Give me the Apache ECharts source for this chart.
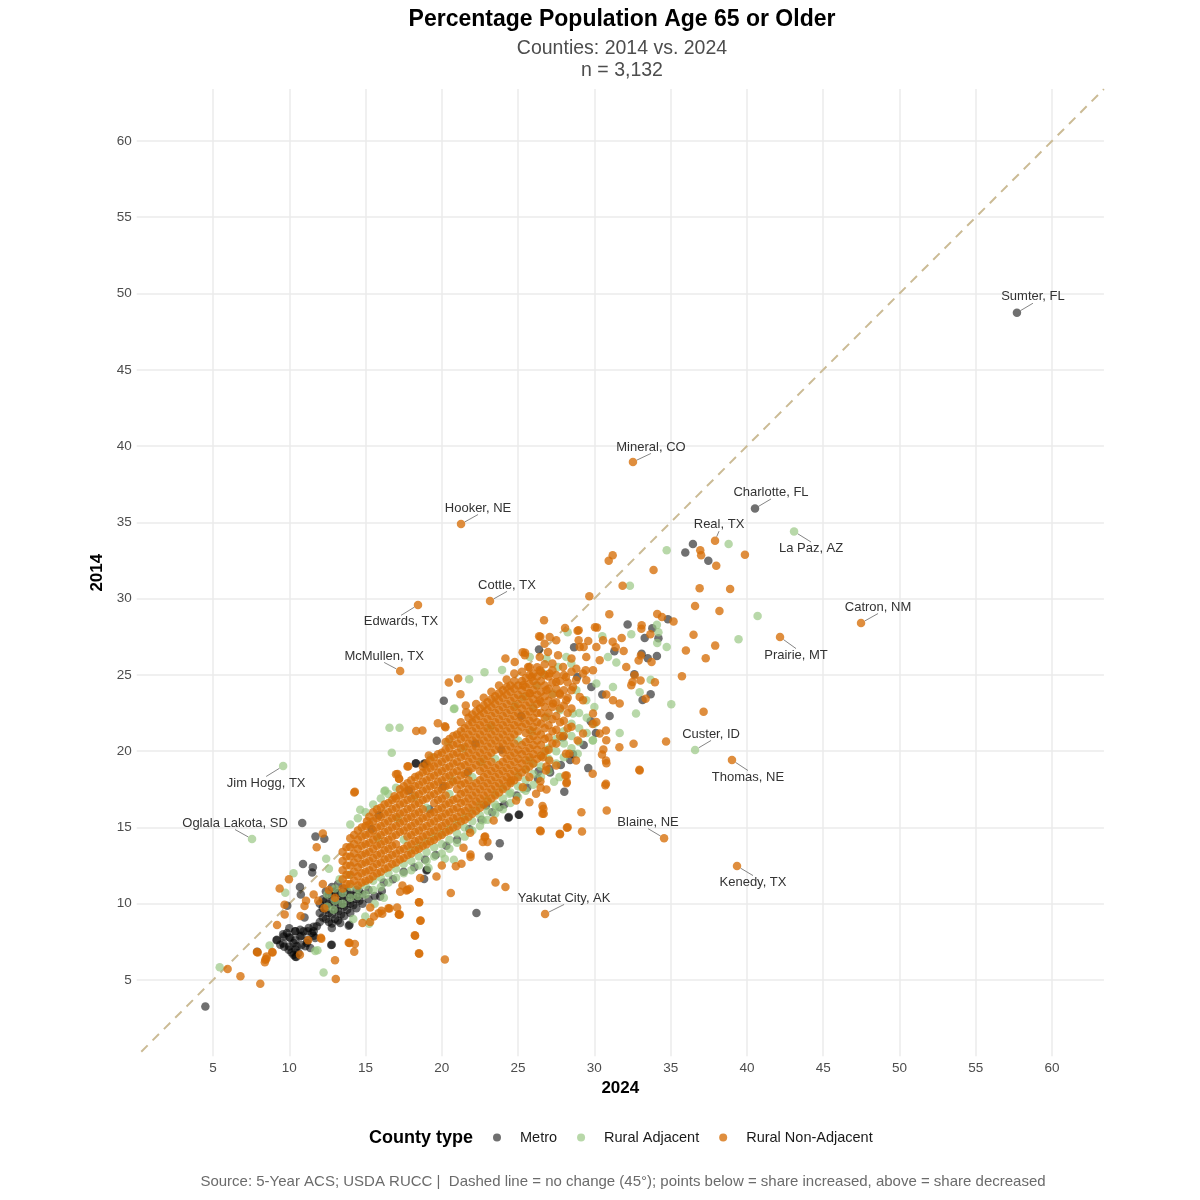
<!DOCTYPE html>
<html>
<head>
<meta charset="utf-8">
<title>Percentage Population Age 65 or Older</title>
<script src="https://cdn.jsdelivr.net/npm/echarts@6/dist/echarts.min.js"></script>
<style>
  html, body { margin: 0; padding: 0; background: #fff; }
  #chart { width: 1200px; height: 1200px; }
</style>
</head>
<body>
<div id="chart"></div>
<script>
// axis range (both axes share it) and tick labels
const axisLo = 0.3;
const axisHi = 63.4;
const tickValues = [5, 10, 15, 20, 25, 30, 35, 40, 45, 50, 55, 60];

// points are [2024 share, 2014 share]
// Metro: scattered counties
const metroPoints = [
  [4.5,3.27],[7.9,6.85],[9.17,7.6],[9.67,7.18],[10.15,6.8],[10.4,6.53],[12.75,7.3],[13.9,8.56],
  [10.85,15.3],[11.72,14.4],[12.3,14.26],[10.9,12.6],[11.5,12.05],[10.7,11.1],[10.76,10.6],[9.87,9.87],
  [11.0,9.1],[11.6,8.2],[15.87,15.8],[18.3,19.2],[18.9,19.2],[15.4,14.9],[11.55,12.4],
  [9.19,7.64],[9.41,7.31],[9.63,7.86],[9.85,8.08],[10.07,7.75],[10.28,7.42],[10.5,7.21],[10.72,7.86],
  [10.94,8.19],[11.27,8.41],[11.48,8.08],[11.7,7.75],[11.81,8.52],[9.96,6.99],[10.28,6.66],[10.61,6.77],
  [11.16,7.42],[11.38,7.1],[10.72,8.3],[10.39,8.19],[11.05,7.21],[10.46,6.51],[12.79,7.31],
  [13.95,8.62],[13.34,8.73],[12.79,8.41],[15.96,10.48],[16.07,10.83],[19.02,12.23],[18.84,11.62],
  [19.0,12.18],[22.27,9.39],[23.08,13.1],[23.8,13.97],[24.37,15.63],[25.07,15.83],[28.03,17.34],
  [29.6,18.89],[36.46,33.58],[35.96,33.03],[37.47,32.49],[34.82,28.65],[33.16,23.36],[33.69,23.73],
  [32.62,25.04],[34.1,26.24],[33.1,26.38],[33.3,27.42],[33.8,28.06],[32.18,28.3],[31.31,26.55],
  [28.67,26.81],[26.37,26.66],[20.13,23.3],[30.52,23.71],[29.76,21.96],[19.67,20.68],[18.3,19.21],
  [18.82,19.17],[17.84,17.42],[26.35,18.69],[27.05,18.84],[28.41,19.43],[27.93,20.92],[23.78,16.33],
  [22.9,16.44],[28.88,24.87],[29.8,24.21],[24.39,15.68],[25.04,15.83],
  [16.2,11.4],[16.8,11.6],[17.5,12.1],[18.2,12.4],[18.9,12.9],[19.6,13.2],[20.3,13.8],[21.0,14.2],
  [21.8,14.9],[22.6,15.5],[23.3,16.0],[24.1,16.5],[24.9,17.1],[25.6,17.6],[26.3,18.2],[27.1,18.6],
  [27.8,19.1],[28.6,19.8],[29.3,20.4],[30.1,21.2],[31.0,22.3],[33.5,26.1],[34.2,27.4],
  [19.2,16.2],[21.7,18.6],[23.9,20.1],[25.2,22.3],[22.2,20.5],[20.1,17.7]
];
// Metro: dense low-share cluster, [2024 share, [2014 shares]]
const metroCluster = [
  [9.6,[7.4,8.0]],
  [10.0,[7.2,7.8,8.4]],
  [10.4,[7.0,7.6,8.2]],
  [10.8,[7.3,7.9]],
  [11.2,[7.6,8.2]],
  [11.6,[7.9,8.5]],
  [12.0,[8.8,9.4,10.0]],
  [12.2,[9.1,9.7,10.3]],
  [12.4,[9.0,9.6,10.2,10.8]],
  [12.6,[8.8,9.4,10.0,10.6]],
  [12.8,[8.7,9.3,9.9,10.5,11.1]],
  [13.0,[9.0,9.6,10.2,10.8]],
  [13.2,[8.9,9.5,10.1,10.7,11.3]],
  [13.4,[9.3,9.9,10.5]],
  [13.6,[9.2,9.8,10.4,11.0]],
  [13.8,[9.6,10.2,10.8]],
  [14.0,[9.4,10.0,10.6]],
  [14.2,[9.9,10.5]],
  [14.4,[9.7,10.3,10.9]],
  [14.6,[10.2,10.8]],
  [14.8,[10.0,10.6]],
  [15.2,[10.3,10.9]],
  [15.6,[10.5]]
];

// Rural Adjacent: scattered counties
const adjPoints = [
  [5.44,5.83],[8.71,7.27],[11.7,6.9],[12.25,5.5],[11.85,6.95],[9.74,10.72],[10.28,12.0],[12.42,12.95],
  [14.65,16.16],[16.29,17.42],[15.24,8.69],[14.98,9.17],[16.57,21.53],[17.23,21.53],[16.72,19.89],
  [16.24,17.38],[20.41,20.61],[20.79,22.77],[22.8,25.17],[23.95,25.33],[21.79,24.72],[20.83,22.8],
  [19.13,12.34],[20.2,12.95],[20.79,12.88],[27.36,17.99],[31.66,21.2],[32.73,22.47],[32.97,23.86],
  [33.69,24.69],[34.74,26.83],[34.12,27.1],[34.1,28.28],[34.2,27.8],[32.42,27.66],[30.52,27.53],
  [28.25,27.8],[35.04,23.08],[38.8,33.58],[34.74,33.17],[32.33,30.85],[40.7,28.86],[39.45,27.34],
  [30.89,26.18],[31.44,25.81],[31.22,24.21],[30.13,24.43],[29.91,20.72],[25.31,17.53],[24.43,17.21],
  [25.74,19.39],[26.83,20.04],[27.71,18.3],[28.91,19.83],[29.89,20.7],[23.56,16.33],[22.69,15.46],
  [26.86,26.07],[27.62,25.52],[28.16,26.18],[28.49,25.74],[26.64,25.09],[25.77,26.18],[26.2,24.32],
  [28.82,24.0],[27.29,23.78],[27.73,22.69],[29.47,23.34],[28.6,22.47],[26.86,22.25],[25.98,22.9],
  [25.33,23.56],[19.3,19.6],[18.2,17.0],[21.4,20.2],[23.2,21.6],[24.8,23.0],[22.6,19.3],[20.7,18.1],
  [25.9,21.3],[17.1,15.6],[15.8,14.3],[12.6,12.3],[13.3,11.6],[13.9,11.9],[12.9,9.6],[14.2,9.0],
  [15.6,10.0],[16.2,10.4],[17.5,14.2],[19.0,16.3],[20.5,17.2],[22.0,18.3],[23.5,19.5],[25.0,20.7]
];
// Rural Adjacent: lower side of the main band, [2024 share, [2014 shares]]
const adjCore = [
  [12.5,[9.8,10.6]],
  [13.0,[10.2,11.0]],
  [13.5,[10.0,10.7]],
  [14.0,[10.4,11.1,15.2]],
  [14.5,[10.5,11.0,15.6]],
  [15.0,[10.6,11.2,16.0]],
  [15.5,[10.9,11.5,16.5]],
  [16.0,[11.1,11.7,16.9]],
  [16.5,[11.4,12.0,17.2]],
  [17.0,[11.7,12.3,17.6]],
  [17.5,[12.0,12.6]],
  [18.0,[12.2,12.8,13.5]],
  [18.5,[12.5,13.1,13.8]],
  [19.0,[12.8,13.4,14.1]],
  [19.5,[13.1,13.7,14.4]],
  [20.0,[13.3,13.9,14.6]],
  [20.5,[13.6,14.2,14.9]],
  [21.0,[14.0,14.6,15.3]],
  [21.5,[14.4,15.0,15.7]],
  [22.0,[14.8,15.4,16.1]],
  [22.5,[15.1,15.8,16.5]],
  [23.0,[15.5,16.1,16.8]],
  [23.5,[15.9,16.5,17.2]],
  [24.0,[16.2,16.9,17.6]],
  [24.5,[16.6,17.3,18.0]],
  [25.0,[17.0,17.7,18.4]],
  [25.5,[17.4,18.1,18.8]],
  [26.0,[17.8,18.5,19.2]],
  [26.5,[18.3,19.0,19.7]],
  [27.0,[18.7,19.5,20.2]],
  [27.5,[19.2,20.0,20.8]],
  [28.0,[19.6,20.5,21.3]],
  [28.5,[20.2,21.0,21.8]],
  [29.0,[20.6,21.5,22.5]],
  [29.5,[21.2,22.2]],
  [30.0,[21.8,22.9]]
];

// Rural Non-Adjacent: scattered counties
const nonAdjPoints = [
  [5.96,5.72],[6.8,5.24],[8.1,4.76],[7.88,6.83],[8.4,6.16],[8.5,6.4],[8.9,6.8],[10.7,6.66],[13.0,6.3],
  [13.05,5.07],[13.9,7.45],[14.3,7.36],[14.26,6.86],[12.1,7.7],[18.25,7.9],[18.5,6.75],[20.2,6.35],
  [18.6,8.9],[18.5,10.1],[17.2,9.3],[16.5,9.7],[15.85,9.37],[16.1,9.35],[15.3,8.8],[12.2,14.6],
  [11.8,13.7],[9.98,11.6],[9.37,11.0],[9.7,9.3],[9.2,8.6],[11.0,9.85],[10.74,9.2],[14.3,17.34],
  [15.1,15.4],[17.1,18.5],[17.2,18.2],[17.75,19.0],[11.24,7.6],[12.07,7.77],[8.43,6.33],[13.95,7.42],
  [17.18,9.3],[16.57,9.69],[17.07,9.76],[16.05,9.54],[15.31,9.76],[14.8,8.73],[15.55,9.17],[17.75,10.92],
  [17.27,10.79],[18.58,11.68],[9.69,9.93],[18.52,10.09],[18.6,8.89],[18.23,7.93],[18.52,6.72],
  [19.65,11.79],[20.0,12.51],[17.69,10.87],[17.9,10.98],[17.25,9.3],[17.42,11.2],[20.59,10.7],
  [23.52,11.4],[24.17,11.09],[21.29,12.62],[20.92,12.45],[21.88,13.23],[21.88,13.06],[21.42,13.67],
  [21.86,14.65],[22.99,14.04],[22.69,14.04],[22.84,14.41],[23.4,15.46],[26.48,14.76],[27.75,14.56],
  [28.25,15.02],[29.19,14.74],[26.66,16.22],[26.68,15.9],[29.15,16.0],[30.81,16.11],[30.79,19.21],
  [32.97,18.73],[30.72,17.77],[28.19,17.97],[28.1,18.4],[27.5,19.06],[26.86,19.0],[26.46,18.03],
  [26.48,17.6],[26.86,17.49],[32.57,20.48],[32.95,18.78],[30.5,19.78],[30.59,20.11],[34.7,20.63],
  [37.16,22.58],[35.74,24.91],[37.3,26.1],[36.0,26.6],[37.92,26.92],[36.5,27.64],[36.6,29.52],
  [38.2,29.19],[36.9,30.68],[38.9,30.63],[33.88,31.88],[31.2,32.84],[30.94,32.49],[31.85,30.85],
  [29.67,30.15],[36.94,33.17],[37.0,32.84],[37.99,32.16],[39.87,32.88],[30.98,28.97],[34.12,29.0],
  [34.43,28.8],[35.19,28.5],[33.36,23.43],[33.97,24.52],[32.5,24.54],[32.64,24.98],[33.03,24.63],
  [33.75,25.85],[33.05,26.27],[33.67,27.66],[33.08,28.03],[33.1,28.25],[32.9,25.94],[31.2,27.18],
  [31.79,27.42],[31.4,26.81],[31.92,26.57],[30.17,28.1],[28.97,27.93],[29.6,27.23],[28.97,27.27],
  [29.3,26.83],[28.08,28.08],[26.7,28.58],[26.46,27.5],[26.74,27.05],[25.46,26.46],[24.17,26.07],
  [20.46,24.5],[21.07,24.76],[21.22,23.73],[20.2,21.64],[30.78,23.71],[31.22,23.34],[31.66,23.12],
  [29.91,22.47],[29.26,23.34],[30.35,21.16],[29.26,21.16],[30.78,20.72],[30.13,21.92],[32.42,24.32],
  [32.09,25.52],[28.8,24.65],[29.43,25.3],[29.26,25.1],[25.3,26.48],[26.38,27.53],[21.6,22.55],
  [21.57,22.99],[18.32,21.33],[18.73,21.35],[19.74,21.83],[20.24,21.57],[19.15,19.72],[17.8,19.02],
  [17.0,18.49],[17.2,18.19],[14.26,17.29],[16.9,17.05],[30.04,28.12],[28.9,27.9],[28.2,14.98],
  [27.73,14.59],[26.44,14.8],[26.6,15.9],[26.6,16.4],[28.17,17.9],[28.19,18.4],[22.8,14.37],
  [26.62,19.61],[27.05,19.39],[28.36,19.83],[28.91,20.7],[29.89,21.79],[30.76,21.35],[30.76,19.39],
  [31.64,20.26],[30.76,17.86],[29.89,18.52],[28.8,19.39],[28.14,19.83],[26.83,18.73],[25.74,18.3],
  [25.31,17.64],[26.18,17.21],[24.87,16.77],[25.74,16.66],[24.54,18.08],[25.44,26.29],[24.78,25.85],
  [25.66,25.52],[26.42,26.18],[26.96,26.5],[27.25,25.74],[27.62,26.29],[27.95,25.52],[28.5,26.07],
  [28.82,25.41],[29.04,26.83],[29.47,26.18],[28.14,24.87],[27.5,24.54],[27.06,25.09],[26.42,25.31],
  [25.88,24.87],[25.33,24.32],[26.86,24.0],[27.73,23.78],[28.6,24.21],[29.04,23.56],[28.16,23.34],
  [27.29,23.12],[26.42,23.34],[25.77,23.78],[29.47,24.65],[29.91,25.3],[30.35,25.96],[30.13,26.83],
  [30.57,27.27],[27.5,27.27],[27.07,27.49],[8.89,6.83],[7.93,6.81],[8.52,6.55],
  [11.9,10.2],[12.3,9.7],[11.6,10.6],[12.6,10.9],[13.0,10.4],[12.2,11.3],[11.1,10.2]
];
// Rural Non-Adjacent: the dense main band, [2024 share, [2014 shares]]
const nonAdjCore = [
  [13.5,[11.0,11.6,12.2,12.8,13.4]],
  [13.75,[11.3,11.9,12.5,13.1,13.7]],
  [14.0,[11.3,11.9,12.5,13.1,13.7,14.3]],
  [14.25,[11.5,12.1,12.7,13.3,13.9,14.5]],
  [14.5,[11.2,11.8,12.4,13.0,13.6,14.2,14.8]],
  [14.75,[11.4,12.0,12.6,13.2,13.8,14.4,15.0]],
  [15.0,[11.5,12.1,12.7,13.3,13.9,14.5,15.1]],
  [15.25,[11.6,12.2,12.8,13.4,14.0,14.6,15.2,15.7]],
  [15.5,[11.8,12.4,13.0,13.6,14.2,14.8,15.4,16.0]],
  [15.75,[12.0,12.6,13.2,13.8,14.4,15.0,15.6,16.2]],
  [16.0,[12.1,12.7,13.3,13.9,14.5,15.1,15.7,16.3]],
  [16.25,[12.3,12.9,13.5,14.1,14.7,15.3,15.9,16.5]],
  [16.5,[12.4,13.0,13.6,14.2,14.8,15.4,16.0,16.6]],
  [16.75,[12.6,13.2,13.8,14.4,15.0,15.6,16.2,16.8]],
  [17.0,[12.7,13.3,13.9,14.5,15.1,15.7,16.3,16.9]],
  [17.25,[12.9,13.5,14.7,15.3,15.9,16.5,17.1,17.5]],
  [17.5,[13.0,13.6,14.8,15.4,16.0,16.6,17.2,17.7]],
  [17.75,[13.2,13.8,14.4,15.0,15.6,16.2,16.8,17.4,17.9]],
  [18.0,[13.3,13.9,14.5,15.1,15.7,16.3,16.9,17.5,18.1]],
  [18.25,[13.5,14.1,14.7,15.3,15.9,16.5,17.1,17.7,18.3]],
  [18.5,[13.6,14.2,14.8,15.4,16.0,16.6,17.2,17.8,18.4]],
  [18.75,[13.8,14.4,15.0,15.6,16.2,16.8,17.4,18.0,18.6,19.0]],
  [19.0,[13.9,14.5,15.1,15.7,16.9,17.5,18.1,18.7,19.2]],
  [19.25,[14.1,14.7,15.3,15.9,17.1,17.7,18.3,18.9,19.4]],
  [19.5,[14.2,14.8,15.4,16.0,16.6,17.2,17.8,18.4,19.0,19.6]],
  [19.75,[14.4,15.0,15.6,16.2,16.8,17.4,18.0,18.6,19.2,19.8]],
  [20.0,[14.5,15.1,15.7,16.3,16.9,17.5,18.1,18.7,19.3,19.9]],
  [20.25,[14.7,15.3,15.9,16.5,17.1,17.7,18.3,18.9,19.5,20.1,20.6]],
  [20.5,[14.8,15.4,16.0,16.6,17.8,18.4,19.0,19.6,20.2,20.8]],
  [20.75,[15.0,15.6,16.2,16.8,18.0,18.6,19.2,19.8,20.4,21.0]],
  [21.0,[15.1,15.7,16.3,16.9,17.5,18.1,18.7,19.3,19.9,20.5,21.1]],
  [21.25,[15.4,16.0,16.6,17.2,17.8,18.4,19.0,19.6,20.2,20.8,21.3,21.9]],
  [21.5,[15.5,16.1,16.7,17.3,17.9,18.5,19.1,19.7,20.3,20.9,21.5]],
  [21.75,[15.7,16.3,16.9,17.5,18.1,18.7,19.3,19.9,20.5,21.1,21.7,22.2]],
  [22.0,[15.9,16.5,17.1,17.7,18.9,19.5,20.1,20.7,21.3,21.9,22.4]],
  [22.25,[16.1,16.7,17.3,17.9,19.1,19.7,20.3,20.9,21.5,22.1,22.6,23.1]],
  [22.5,[16.3,16.9,17.5,18.1,18.7,19.3,19.9,20.5,21.1,21.7,22.3,22.8]],
  [22.75,[16.5,17.1,17.7,18.3,18.9,19.5,20.1,20.7,21.3,21.9,22.5,23.0,23.5]],
  [23.0,[16.7,17.3,17.9,18.5,19.1,19.7,20.3,20.9,21.5,22.1,22.7,23.2]],
  [23.25,[16.9,17.5,18.1,18.7,19.3,19.9,20.5,21.1,21.7,22.3,22.9,23.4,23.9]],
  [23.5,[17.1,17.7,18.3,18.9,20.1,20.7,21.3,21.9,22.5,23.1,23.6]],
  [23.75,[17.3,17.9,18.5,19.1,20.3,20.9,21.5,22.1,22.7,23.3,23.8,24.3]],
  [24.0,[17.5,18.1,18.7,19.3,19.9,20.5,21.1,21.7,22.3,22.9,23.5,24.0]],
  [24.25,[17.7,18.3,18.9,19.5,20.1,20.7,21.3,21.9,22.5,23.1,23.7,24.2,24.7]],
  [24.5,[17.9,18.5,19.1,19.7,20.3,20.9,21.5,22.1,22.7,23.3,23.9,24.3]],
  [24.75,[18.1,18.7,19.3,19.9,20.5,21.1,21.7,22.3,22.9,23.5,24.1,24.6,25.1]],
  [25.0,[18.3,18.9,19.5,20.1,21.3,21.9,22.5,23.1,23.7,24.3]],
  [25.25,[18.6,19.2,19.8,20.4,21.6,22.2,22.8,23.4,24.0,24.6,25.2]],
  [25.5,[18.8,19.4,20.0,20.6,21.2,21.8,22.4,23.0,23.6,24.2,24.8]],
  [25.75,[19.0,19.6,20.2,20.8,21.4,22.0,22.6,23.2,23.8,24.4,25.0,25.5]],
  [26.0,[19.2,19.8,20.4,21.0,21.6,22.2,22.8,23.4,24.0,24.6,25.1]],
  [26.25,[19.5,20.1,20.7,21.3,21.9,22.5,23.1,23.7,24.3,24.9,25.5]],
  [26.5,[19.7,20.4,21.1,21.8,22.5,23.2,23.9,24.6,25.2]],
  [26.75,[20.0,20.8,21.5,22.2,22.9,23.6,24.3,25.0,25.7]],
  [27.0,[20.1,20.9,21.7,22.5,23.3,24.1,24.9]],
  [27.25,[20.5,21.3,22.1,22.9,23.7,24.5,25.3]],
  [27.5,[20.5,21.4,22.3,23.2,24.1,25.0]],
  [27.75,[21.0,21.9,22.8,23.7,24.6]],
  [28.0,[21.0,22.0,23.0,24.0,25.0]],
  [28.25,[21.5,22.5,23.5,24.5]],
  [28.5,[21.6,22.8,24.0,25.2]]
];

// labelled outliers: [name, county type, 2024 share, 2014 share]
const labeledCounties = [
  ['Sumter, FL', 'Metro', 57.7, 48.74],
  ['Mineral, CO', 'Rural Non-Adjacent', 32.53, 38.96],
  ['Charlotte, FL', 'Metro', 40.53, 35.91],
  ['Hooker, NE', 'Rural Non-Adjacent', 21.26, 34.89],
  ['Real, TX', 'Rural Non-Adjacent', 37.91, 33.8],
  ['La Paz, AZ', 'Rural Adjacent', 43.09, 34.4],
  ['Cottle, TX', 'Rural Non-Adjacent', 23.16, 29.85],
  ['Edwards, TX', 'Rural Non-Adjacent', 18.44, 29.59],
  ['Catron, NM', 'Rural Non-Adjacent', 47.48, 28.4],
  ['Prairie, MT', 'Rural Non-Adjacent', 42.17, 27.48],
  ['McMullen, TX', 'Rural Non-Adjacent', 17.27, 25.26],
  ['Custer, ID', 'Rural Adjacent', 36.6, 20.08],
  ['Thomas, NE', 'Rural Non-Adjacent', 39.02, 19.42],
  ['Jim Hogg, TX', 'Rural Adjacent', 9.6, 19.03],
  ['Oglala Lakota, SD', 'Rural Adjacent', 7.56, 14.24],
  ['Blaine, NE', 'Rural Non-Adjacent', 34.57, 14.3],
  ['Kenedy, TX', 'Rural Non-Adjacent', 39.35, 12.47],
  ['Yakutat City, AK', 'Rural Non-Adjacent', 26.77, 9.33]
];
// where each label sits relative to its point (px)
const labelOffsets = [
  [16,-16],[18,-15],[16,-16],[17,-16],[4,-16],[17,17],[17,-16],[-17,17],[17,-16],
  [16,18],[-16,-15],[16,-16],[16,17],[-17,17],[-17,-16],[-16,-16],[16,16],[19,-16]
];

const FONT = '"Liberation Sans", Arial, sans-serif';
const typeColors = {
  'Metro': 'rgba(0,0,0,0.56)',
  'Rural Adjacent': 'rgba(150,198,128,0.68)',
  'Rural Non-Adjacent': 'rgba(214,110,8,0.78)'
};

const flatten = cols => cols.flatMap(([x, ys]) => ys.map(y => [x, y]));

const chart = echarts.init(document.getElementById('chart'));

function typeSeries(name, data) {
  return {
    name,
    type: 'scatter',
    data,
    symbolSize: 8.5,
    itemStyle: { color: typeColors[name], opacity: 1 },
    emphasis: { disabled: true },
    silent: true
  };
}

const axisLabelFmt = v => tickValues.includes(v) ? String(v) : '';

const option = {
  animation: false,
  backgroundColor: '#ffffff',
  textStyle: { fontFamily: FONT },
  grid: { left: 136.7, right: 96.1, top: 89.1, bottom: 143.7, containLabel: false },
  xAxis: {
    type: 'value', min: 0, max: axisHi, interval: 5,
    name: '2024', nameLocation: 'middle', nameGap: 18,
    nameTextStyle: { fontFamily: FONT, fontSize: 17, fontWeight: 'bold', color: '#000' },
    axisLine: { show: false }, axisTick: { show: false },
    axisLabel: { margin: 5, fontSize: 13.5, color: '#4d4d4d', fontFamily: FONT, formatter: axisLabelFmt },
    splitLine: { show: true, showMinLine: false, showMaxLine: false, lineStyle: { color: '#ebebeb', width: 1.5 } }
  },
  yAxis: {
    type: 'value', min: 0, max: axisHi, interval: 5,
    name: '2014', nameLocation: 'middle', nameGap: 23, nameRotate: 90,
    nameTextStyle: { fontFamily: FONT, fontSize: 17, fontWeight: 'bold', color: '#000' },
    axisLine: { show: false }, axisTick: { show: false },
    axisLabel: { margin: 5, fontSize: 13.5, color: '#4d4d4d', fontFamily: FONT, formatter: axisLabelFmt },
    splitLine: { show: true, showMinLine: false, showMaxLine: false, lineStyle: { color: '#ebebeb', width: 1.5 } }
  },
  legend: {
    data: ['Metro', 'Rural Adjacent', 'Rural Non-Adjacent'],
    left: 488, top: 1125,
    icon: 'circle', itemWidth: 36, itemHeight: 8, itemGap: 20,
    textStyle: { fontFamily: FONT, fontSize: 14.5, color: '#1a1a1a' }
  },
  graphic: [
    { type: 'text', x: 622, y: 20, style: { text: 'Percentage Population Age 65 or Older', fontFamily: FONT, fontSize: 23, fontWeight: 'bold', fill: '#000', textAlign: 'center', textVerticalAlign: 'middle' } },
    { type: 'text', x: 622, y: 49, style: { text: 'Counties: 2014 vs. 2024', fontFamily: FONT, fontSize: 19.5, fill: '#4d4d4d', textAlign: 'center', textVerticalAlign: 'middle' } },
    { type: 'text', x: 622, y: 71, style: { text: 'n = 3,132', fontFamily: FONT, fontSize: 19.5, fill: '#4d4d4d', textAlign: 'center', textVerticalAlign: 'middle' } },
    { type: 'text', x: 369, y: 1138, style: { text: 'County type', fontFamily: FONT, fontSize: 18, fontWeight: 'bold', fill: '#000', textAlign: 'left', textVerticalAlign: 'middle' } },
    { type: 'text', x: 623, y: 1182, style: { text: 'Source: 5-Year ACS; USDA RUCC |  Dashed line = no change (45°); points below = share increased, above = share decreased', fontFamily: FONT, fontSize: 15, fill: '#6b6b6b', textAlign: 'center', textVerticalAlign: 'middle' } }
  ],
  series: [
    {
      type: 'line',
      data: [[axisLo, axisLo], [axisHi, axisHi]],
      symbol: 'none',
      silent: true,
      z: 1,
      lineStyle: { color: '#cbbb95', width: 2, type: [9, 7] }
    },
    typeSeries('Metro', metroPoints.concat(flatten(metroCluster))),
    typeSeries('Rural Adjacent', adjPoints.concat(flatten(adjCore))),
    typeSeries('Rural Non-Adjacent', nonAdjPoints.concat(flatten(nonAdjCore))),
    {
      type: 'scatter',
      symbolSize: 8.5,
      silent: true,
      z: 5,
      data: labeledCounties.map(([name, kind, x, y]) => ({
        name,
        value: [x, y],
        itemStyle: { color: typeColors[kind], opacity: 1 }
      })),
      label: {
        show: true, position: 'inside', formatter: '{b}',
        fontFamily: FONT, fontSize: 13, color: '#333333'
      },
      labelLayout: params => ({ dx: labelOffsets[params.dataIndex][0], dy: labelOffsets[params.dataIndex][1] }),
      labelLine: { show: true, lineStyle: { color: '#666666', width: 0.8 } }
    }
  ]
};

chart.setOption(option);
</script>
</body>
</html>
